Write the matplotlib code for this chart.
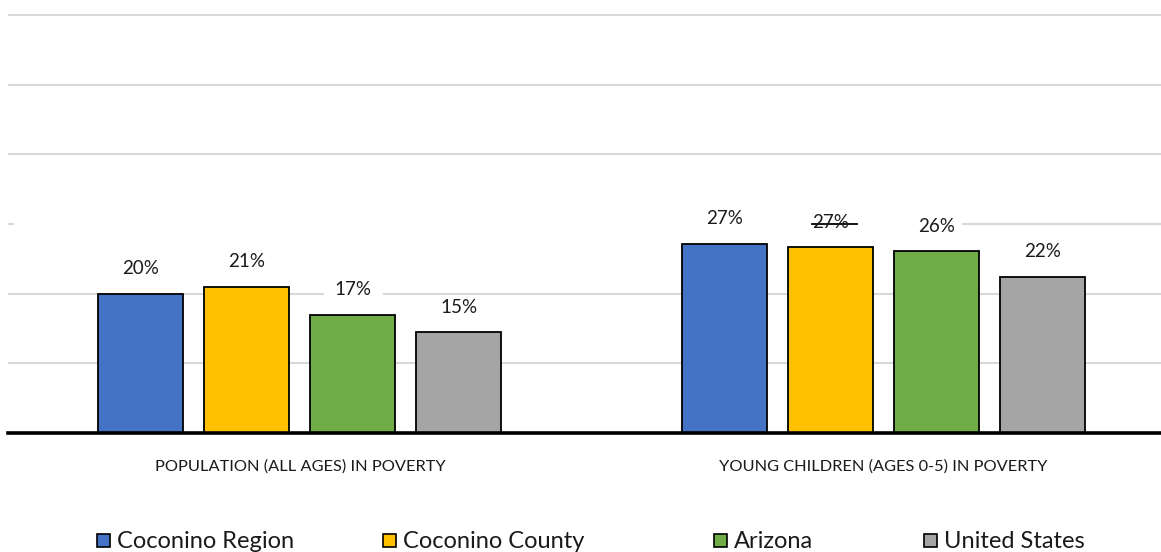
import matplotlib.pyplot as plt
from matplotlib.patches import Rectangle

plt.rcParams['font.family'] = ['Lato', 'DejaVu Sans']

# data
categories = ["POPULATION (ALL AGES) IN POVERTY", "YOUNG CHILDREN (AGES 0-5) IN POVERTY"]
series_names = ["Coconino Region", "Coconino County", "Arizona", "United States"]
coconino_region = [20.0, 27.2]
coconino_county = [21.0, 26.7]
arizona = [17.0, 26.1]
united_states = [14.5, 22.4]
value_labels = [["20%", "27%"], ["21%", "27%"], ["17%", "26%"], ["15%", "22%"]]

series = [coconino_region, coconino_county, arizona, united_states]
colors = ["#4472C4", "#FFC000", "#70AD47", "#A5A5A5"]

fig = plt.figure(figsize=(11.61, 5.52), dpi=100)
ax = fig.add_axes([8 / 1161, 1 - 433 / 552, 1 - 8 / 1161, (433 - 13) / 552])

grid_c = "#D9D9D9"
for g in [10, 40, 50, 60]:
    ax.axhline(g, color=grid_c, lw=1.5, zorder=0)
# partly hidden gridlines (covered by label boxes in the original)
ax.axhline(20, xmin=0, xmax=0.273, color=grid_c, lw=1.5, zorder=0)
ax.axhline(20, xmin=0.326, xmax=1, color=grid_c, lw=1.5, zorder=0)
ax.axhline(30, xmin=0, xmax=0.004, color=grid_c, lw=1.5, zorder=0)
ax.axhline(30, xmin=0.828, xmax=1, color=grid_c, lw=1.5, zorder=0)
ax.axhline(30, xmin=0.697, xmax=0.736, color="black", lw=1.3, zorder=3)

step = 0.1815
width = 0.1455
x = [0, 1]
for i, (vals, col) in enumerate(zip(series, colors)):
    off = (i - 1.5) * step
    xs = [xx + off for xx in x]
    ax.bar(xs, vals, width=width, color=col, edgecolor="black", linewidth=1.3, zorder=2)
    for xx, v, lab in zip(xs, vals, value_labels[i]):
        ax.annotate(lab, (xx, v), xytext=(0, 18), textcoords="offset points",
                    ha="center", va="center", fontsize=13.5, color="#1a1a1a")

ax.axhline(0, color="black", lw=2.6, zorder=4, clip_on=False)
ax.set_ylim(0, 60.3)
ax.set_xlim(-0.5, 1.475)
ax.set_xticks(x)
ax.set_xticklabels(categories, fontsize=11.8, color="#1a1a1a")
ax.tick_params(axis="x", length=0, pad=19)
ax.set_yticks([])
for s in ax.spines.values():
    s.set_visible(False)

# legend
leg_x = [97, 383, 714, 924]
for name, col, lx in zip(series_names, colors, leg_x):
    fig.patches.append(Rectangle((lx / 1161, 1 - 547 / 552), 13 / 1161, 13 / 552,
                                 transform=fig.transFigure, facecolor=col,
                                 edgecolor="black", linewidth=1.2))
    fig.text((lx + 20) / 1161, 1 - 541 / 552, name, fontsize=17,
             va="center", ha="left", color="#1a1a1a")

fig.savefig("out.png", dpi=100)
